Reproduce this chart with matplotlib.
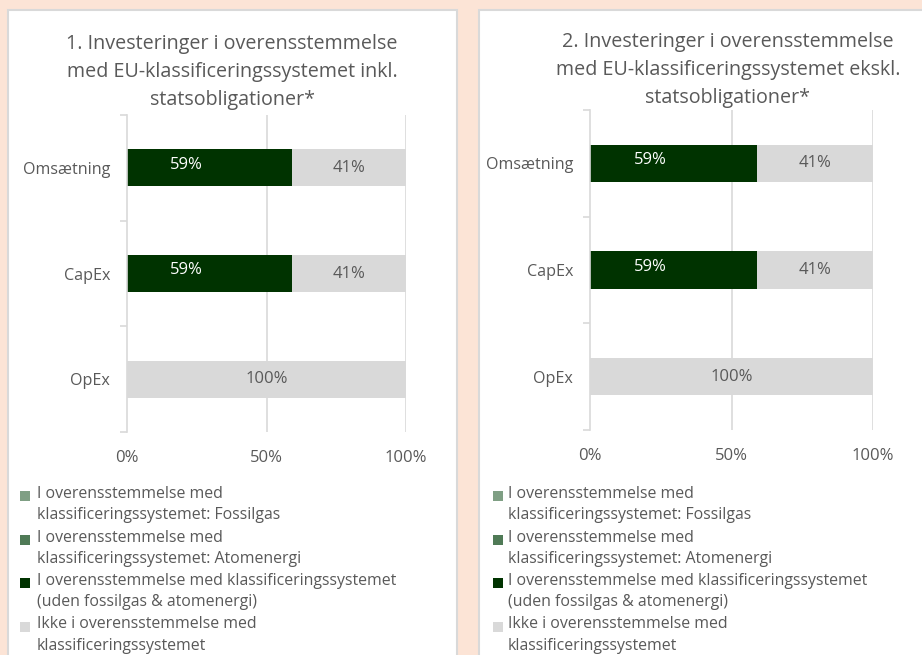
import matplotlib
matplotlib.use("Agg")
import matplotlib.pyplot as plt
from matplotlib.patches import Rectangle
import numpy as np

plt.rcParams['font.family'] = ['Open Sans', 'DejaVu Sans']

categories = ["Omsætning", "CapEx", "OpEx"]
series_names = [
    "I overensstemmelse med\nklassificeringssystemet: Fossilgas",
    "I overensstemmelse med\nklassificeringssystemet: Atomenergi",
    "I overensstemmelse med klassificeringssystemet\n(uden fossilgas & atomenergi)",
    "Ikke i overensstemmelse med\nklassificeringssystemet",
]
series_colors = ["#7f9f84", "#4f7a56", "#003300", "#d9d9d9"]

# chart 1 (incl. sovereign bonds), values in %
c1_fossil = [0, 0, 0]
c1_nuclear = [0, 0, 0]
c1_aligned = [59, 59, 0]
c1_not = [41, 41, 100]
# chart 2 (excl. sovereign bonds)
c2_fossil = [0, 0, 0]
c2_nuclear = [0, 0, 0]
c2_aligned = [59, 59, 0]
c2_not = [41, 41, 100]

titles = [
    "1. Investeringer i overensstemmelse\nmed EU-klassificeringssystemet inkl.\nstatsobligationer*",
    "2. Investeringer i overensstemmelse\nmed EU-klassificeringssystemet ekskl.\nstatsobligationer*",
]
xtick_vals = [0, 50, 100]
xtick_labels = ["0%", "50%", "100%"]

W, H = 922, 655
fig = plt.figure(figsize=(W / 100, H / 100), dpi=100)
fig.patch.set_facecolor("#fce4d6")

txt = "#595959"
grid = "#d9d9d9"

# panels
for (x0, x1) in [(8, 457), (479, 940)]:
    fig.patches.append(Rectangle((x0 / W, -0.05), (x1 - x0) / W, 1.05 - 10 / H,
                                 transform=fig.transFigure, facecolor="white",
                                 edgecolor="#d9d9d9", linewidth=1.5, zorder=-5))

axes_px = [(127, 406, 115, 432), (590, 873, 110, 430)]
title_centers = [(232, 72), (728, 70)]
data = [(c1_fossil, c1_nuclear, c1_aligned, c1_not),
        (c2_fossil, c2_nuclear, c2_aligned, c2_not)]
legend_x = [(20, 37), (493, 508)]

ypos = np.arange(len(categories))[::-1]

for i in range(2):
    xl, xr, yt, yb = axes_px[i]
    ax = fig.add_axes([xl / W, 1 - yb / H, (xr - xl) / W, (yb - yt) / H])
    ax.set_facecolor("none")
    left = np.zeros(len(categories))
    for vals, col, name in zip(data[i], series_colors, series_names):
        v = np.array(vals, dtype=float)
        ax.barh(ypos, v, left=left, height=0.35, color=col, zorder=2, label=name)
        dark = col == "#003300"
        for y, l, val in zip(ypos, left, v):
            if val > 0:
                xp = l + val * (0.36 if dark else 0.5)
                ax.text(xp, y + (0.03 if dark else 0), f"{val:.0f}%", ha="center", va="center",
                        fontsize=12, color="white" if dark else txt, zorder=3)
        left += v
    ax.set_xlim(0, 100)
    ax.set_ylim(-0.5, 2.5)
    ax.set_xticks(xtick_vals)
    ax.set_xticklabels(xtick_labels)
    ax.set_yticks(ypos)
    ax.set_yticklabels(categories)
    ax.set_yticks([-0.5, 0.5, 1.5, 2.5], minor=True)
    ax.tick_params(axis="y", which="major", length=0, pad=12, labelsize=11.6, labelcolor=txt)
    ax.tick_params(axis="y", which="minor", length=5, color=grid, width=1.2)
    ax.tick_params(axis="x", length=0, pad=13, labelsize=12, labelcolor=txt)
    for s in ["top", "right", "bottom"]:
        ax.spines[s].set_visible(False)
    ax.spines["left"].set_color(grid)
    ax.spines["left"].set_linewidth(1.2)
    for g in [50, 100]:
        ax.axvline(g, color=grid, lw=1.2, zorder=1)
    tx, ty = title_centers[i]
    fig.text(tx / W, 1 - ty / H, titles[i], ha="center", va="center",
             fontsize=14.2, color=txt, linespacing=1.5)
    # legend
    mx, lx = legend_x[i]
    for k, (name, col) in enumerate(zip(series_names, series_colors)):
        y0 = 496 + 43.5 * k
        fig.patches.append(Rectangle((mx / W, 1 - (y0 + 5) / H), 10 / W, 10 / H,
                                     transform=fig.transFigure, facecolor=col,
                                     edgecolor="none", zorder=3))
        fig.text(lx / W, 1 - (y0 - 10) / H, name, ha="left", va="top",
                 fontsize=11.4, color=txt, linespacing=1.45)

fig.savefig("out.png", dpi=100, facecolor=fig.get_facecolor())
